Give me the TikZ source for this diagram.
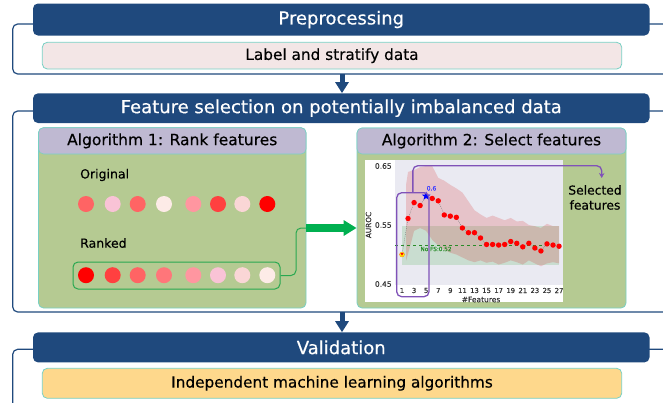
\documentclass[tikz,border=0pt]{standalone}
\usepackage{fontspec}
\setmainfont{DejaVu Sans}[FakeBold=0.35]
\usetikzlibrary{arrows.meta,shapes.geometric,calc}
\definecolor{dblue}{RGB}{31,73,125}
\definecolor{tealb}{RGB}{120,208,196}
\definecolor{pinkbox}{RGB}{243,230,230}
\definecolor{panelg}{RGB}{181,202,146}
\definecolor{lav}{RGB}{191,185,210}
\definecolor{orangebox}{RGB}{254,216,140}
\definecolor{garr}{RGB}{0,176,80}
\definecolor{rboxc}{RGB}{40,168,80}
\definecolor{purp}{RGB}{128,82,184}
\definecolor{axbg}{RGB}{234,234,242}
\definecolor{tabred}{RGB}{214,39,40}
\definecolor{tabgreen}{RGB}{44,160,44}
\definecolor{ticktxt}{RGB}{50,50,50}
\definecolor{nofsc}{RGB}{40,140,40}
\definecolor{ca}{RGB}{255,0,0}
\definecolor{cb}{RGB}{255,64,64}
\definecolor{cc}{RGB}{255,100,100}
\definecolor{cd}{RGB}{255,118,122}
\definecolor{ce}{RGB}{255,150,160}
\definecolor{cf}{RGB}{249,195,214}
\definecolor{cg}{RGB}{250,214,214}
\definecolor{ch}{RGB}{253,235,231}
\begin{document}
\begin{tikzpicture}[x=1pt,y=-1pt,
  hdr/.style={rectangle, rounded corners=5pt, fill=dblue, draw=none, text=white,
    font=\fontsize{18}{20}\selectfont, inner sep=0pt, minimum width=616.5pt},
  frame/.style={draw=dblue, line width=1.2pt, rounded corners=5pt},
  subbox/.style={rectangle, rounded corners=5pt, draw=tealb, line width=0.8pt,
    font=\fontsize{15.3}{17}\selectfont, inner sep=0pt, minimum width=579.4pt},
  panel/.style={rectangle, rounded corners=5pt, fill=panelg, draw=tealb, line width=0.8pt, inner sep=0pt},
  ptitle/.style={rectangle, rounded corners=5pt, fill=lav, draw=tealb, line width=0.6pt,
    font=\fontsize{15.5}{17}\selectfont, inner sep=0pt},
  dot/.style={circle, minimum size=16pt, inner sep=0pt, draw=none},
  lbl/.style={font=\fontsize{12.5}{14}\selectfont, anchor=west, inner sep=0pt},
  barrow/.style={line width=5pt, draw=dblue, -{Triangle[width=13pt,length=11pt]}},
  garrow/.style={line width=8pt, draw=garr, -{Triangle[width=15pt,length=13pt]}},
  tick/.style={font=\fontsize{6.8}{7}\selectfont, text=ticktxt, inner sep=0pt},
  rdot/.style={circle, fill=red, minimum size=5.4pt, inner sep=0pt},
]
\useasboundingbox (0,0) rectangle (663,402);
\clip (0,0) rectangle (663,402);

% frames
\draw[frame] (12.7,24) rectangle (700,74);
\draw[frame] (12.7,111) rectangle (700,312);
\draw[frame] (12.7,349.3) rectangle (700,440);

% headers
\node[hdr, minimum height=32pt] (pre) at (341.25,19.5) {Preprocessing};
\node[hdr, minimum height=29.7pt] (fsel) at (341.25,108.2) {Feature selection on potentially imbalanced data};
\node[hdr, minimum height=30pt] (val) at (341.25,347.4) {Validation};

% sub boxes
\node[subbox, fill=pinkbox, minimum height=26.7pt] (lab) at (332,55.65) {Label and stratify data};
\node[subbox, fill=orangebox, minimum height=30pt] (ind) at (332,383.3) {Independent machine learning algorithms};

% section arrows
\coordinate (a1) at (342,74);
\coordinate (a2) at (342,312);
\draw[barrow] (a1) -- (a1 |- fsel.north);
\draw[barrow] (a2) -- (a2 |- val.north);

% panels
\node[panel, minimum width=267.5pt, minimum height=180.3pt] (alg1) at (172.25,217.85) {};
\node[ptitle, minimum width=267.5pt, minimum height=26.3pt] (t1) at (172.25,140.85) {Algorithm 1: Rank features};
\node[panel, minimum width=269pt, minimum height=180pt] (alg2) at (491.5,218) {};
\node[ptitle, minimum width=269pt, minimum height=26pt] (t2) at (491.5,141) {Algorithm 2: Select features};

% algorithm 1 content
\node[lbl] (orig) at (80,175) {Original};
\node[lbl] (rank) at (80,243) {Ranked};
\foreach \x/\c [count=\i] in {86/cc,112.7/cf,137.7/cc,164/ch,193.3/ce,218/cb,242.3/cg,267.3/ca}
  \node[dot, fill=\c] (o\i) at (\x,204) {};
\node[draw=rboxc, line width=1pt, rounded corners=5pt, minimum width=207pt, minimum height=27pt, inner sep=0pt] (rbox) at (176.5,275.5) {};
\foreach \x/\c [count=\i] in {86/ca,112.7/cb,137.7/cc,164/cd,193.3/ce,218/cf,242.3/cg,267.3/ch}
  \node[dot, fill=\c] (r\i) at (\x,275.2) {};

% green connector and arrow
\coordinate (ga) at (306,228);
\draw[rboxc, line width=1pt, rounded corners=5pt] (rbox.east) -- (296,275.5) -- (296,228) -- (ga);
\draw[garrow] (ga) -- (ga -| alg2.west);

% plot background
\node[fill=white, minimum width=198pt, minimum height=142pt, inner sep=0pt] (pwhite) at (464,231) {};
\node[fill=axbg, minimum width=168pt, minimum height=125pt, inner sep=0pt] (pax) at (479,222.5) {};

\begin{scope}[shift={(395.96,549.5)}, x=6.04pt, y=590pt]
  \fill[tabgreen, fill opacity=0.17] (1,0.483) rectangle (27,0.549);
  \fill[tabred, fill opacity=0.2] (1.7,0.62) -- (2,0.64) -- (3,0.643) -- (4,0.648) -- (5,0.65) -- (6,0.65)
    -- (7,0.63) -- (8,0.625) -- (9,0.618) -- (10,0.612) -- (11,0.605) -- (12,0.59) -- (13,0.575)
    -- (14,0.568) -- (15,0.562) -- (16,0.566) -- (17,0.562) -- (18,0.558) -- (19,0.562) -- (20,0.556)
    -- (21,0.557) -- (22,0.55) -- (23,0.548) -- (24,0.545) -- (25,0.552) -- (26,0.548) -- (27,0.548)
    -- (27,0.485) -- (26,0.487) -- (25,0.485) -- (24,0.48) -- (23,0.485) -- (22,0.49) -- (21,0.483)
    -- (20,0.487) -- (19,0.49) -- (18,0.486) -- (17,0.483) -- (16,0.488) -- (15,0.486) -- (14,0.49)
    -- (13,0.487) -- (12,0.49) -- (11,0.495) -- (10,0.5) -- (9,0.503) -- (8,0.508) -- (7,0.515)
    -- (6,0.525) -- (5,0.54) -- (4,0.545) -- (3,0.54) -- (2.5,0.52) -- (1.7,0.49) -- cycle;
  \draw[nofsc, dashed, line width=0.6pt] (-0.16,0.516) -- (27.6,0.516);
  \draw[gray, line width=0.4pt, dash pattern=on 1pt off 1pt]
    (1,0.5) -- (2,0.561) -- (3,0.588) -- (4,0.583) -- (5,0.599) -- (6,0.595) -- (7,0.591) -- (8,0.567)
    -- (9,0.565) -- (10,0.563) -- (11,0.545) -- (12,0.537) -- (13,0.537) -- (14,0.528) -- (15,0.517)
    -- (16,0.517) -- (17,0.516) -- (18,0.517) -- (19,0.522) -- (20,0.519) -- (21,0.513) -- (22,0.519)
    -- (23,0.511) -- (24,0.506) -- (25,0.518) -- (26,0.516) -- (27,0.514);
  \foreach \f/\v in {2/0.561,3/0.588,4/0.583,6/0.595,7/0.591,8/0.567,9/0.565,10/0.563,11/0.545,
     12/0.537,13/0.537,14/0.528,15/0.517,16/0.517,17/0.516,18/0.517,19/0.522,20/0.519,21/0.513,
     22/0.519,23/0.511,24/0.506,25/0.518,26/0.516,27/0.514}
    \node[rdot] (p\f) at (\f,\v) {};
  \node[circle, fill=yellow, draw=orange, line width=0.3pt, minimum size=5pt, inner sep=0pt] (p1) at (1,0.5) {};
  \node[regular polygon, regular polygon sides=3, shape border rotate=180, fill=red, minimum size=3.6pt, inner sep=0pt] (p1t) at (1,0.501) {};
  \node[star, star points=5, star point ratio=2.4, fill=blue, minimum size=9pt, inner sep=0pt] (p5) at (5,0.599) {};
\end{scope}

% plot texts
\node[font=\fontsize{6}{7}\selectfont, text=blue!75!white, inner sep=0pt] (l06) at (431.5,188.3) {0.6};
\node[font=\fontsize{5.7}{6}\selectfont, text=nofsc, inner sep=0pt] (nofs) at (436,249) {No FS:0.52};
\node[tick, font=\fontsize{7.5}{8}\selectfont] (y65) at (383.3,166) {0.65};
\node[tick, font=\fontsize{7.5}{8}\selectfont] (y55) at (383.3,225) {0.55};
\node[tick, font=\fontsize{7.5}{8}\selectfont] (y45) at (383.3,284) {0.45};
\foreach \f in {1,3,...,27}
  \node[tick] (xt\f) at ({402+(\f-1)*6.04},290.5) {\f};
\node[tick, font=\fontsize{7.5}{8}\selectfont] (xlab) at (481,299.5) {\#Features};
\node[tick, font=\fontsize{7.3}{8}\selectfont, rotate=90] (ylab) at (368.5,225) {AUROC};

% purple selection
\node[draw=purp, line width=1.3pt, rounded corners=5pt, minimum width=32.3pt, minimum height=104pt, inner sep=0pt] (prect) at (412.85,244.7) {};
\node[align=center, font=\fontsize{12.3}{15}\selectfont, inner sep=0pt] (sel) at (595,197.5) {Selected\\features};
\coordinate (pend) at (601.7,178);
\draw[purp, line width=1.3pt, rounded corners=5pt, -{Stealth[length=5pt,width=5.5pt]}]
  (prect.north) -- (412.85,165.7) -- (601.7,165.7) -- (pend);
\end{tikzpicture}
\end{document}
